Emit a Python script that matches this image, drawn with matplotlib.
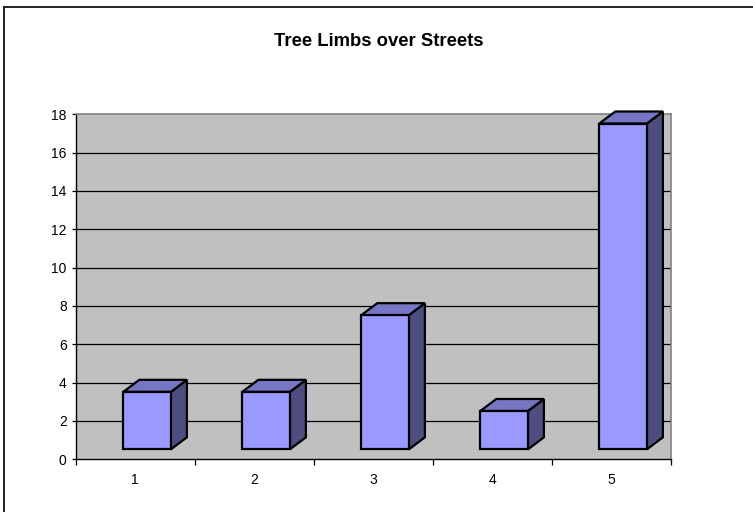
import matplotlib

matplotlib.use("Agg")
import matplotlib.pyplot as plt
from matplotlib.patches import Polygon
from matplotlib.lines import Line2D

plt.rcParams["font.family"] = ["Liberation Sans", "DejaVu Sans"]

categories = ["1", "2", "3", "4", "5"]
values = [3, 3, 7, 2, 17]
y_ticks = [0, 2, 4, 6, 8, 10, 12, 14, 16, 18]

FRONT = "#9999FF"
TOP = "#7676C4"
SIDE = "#4D4D80"
WALL = "#C0C0C0"

fig = plt.figure(figsize=(7.53, 5.12), dpi=100)
ax = fig.add_axes([75.7 / 753, 1 - 459.3 / 512, 595 / 753, 345 / 512])
ax.set_facecolor(WALL)
ax.set_xlim(0, len(categories))
ax.set_ylim(0, 18)

# gridlines on the back wall
for t in y_ticks[1:-1]:
    ax.axhline(t, color="#000000", linewidth=0.9, zorder=1)

# pseudo 3d columns (Excel style)
base = 0.52
dx = 16 / 119
dy = 12 / (345 / 18)
for i, v in enumerate(values):
    x0, x1 = i + 0.4, i + 0.8
    top = base + v
    front = Polygon([(x0, base), (x1, base), (x1, top), (x0, top)], closed=True,
                    facecolor=FRONT, edgecolor="black", linewidth=1.6, zorder=3, clip_on=False)
    lid = Polygon([(x0, top), (x1, top), (x1 + dx, top + dy), (x0 + dx, top + dy)], closed=True,
                  facecolor=TOP, edgecolor="black", linewidth=1.6, zorder=3, clip_on=False)
    side = Polygon([(x1, base), (x1 + dx, base + dy), (x1 + dx, top + dy), (x1, top)], closed=True,
                   facecolor=SIDE, edgecolor="black", linewidth=1.6, zorder=3, clip_on=False)
    for p in (side, lid, front):
        ax.add_patch(p)

for s in ("top", "right"):
    ax.spines[s].set_color("#808080")
    ax.spines[s].set_linewidth(1.2)
for s in ("left", "bottom"):
    ax.spines[s].set_color("#000000")
    ax.spines[s].set_linewidth(1.0)

ax.set_yticks(y_ticks)
ax.set_yticklabels([str(t) for t in y_ticks])
ax.tick_params(axis="y", direction="out", length=3, width=0.9, pad=3.5, labelsize=10, colors="black")

ax.set_xticks(range(len(categories) + 1))
ax.set_xticklabels([])
ax.set_xticks([i + 0.5 for i in range(len(categories))], minor=True)
ax.set_xticklabels(categories, minor=True)
ax.tick_params(axis="x", which="major", direction="out", length=4, width=0.9)
ax.tick_params(axis="x", which="minor", length=0, pad=10, labelsize=10)

fig.text(379 / 753, 1 - 41 / 512, "Tree Limbs over Streets", ha="center", va="center",
         fontsize=13.3, fontweight="bold")

# chart frame (only top and left edges fall inside the image)
fig.add_artist(Line2D([4 / 753, 4 / 753], [0, 1 - 7 / 512], transform=fig.transFigure,
                      color="#222222", linewidth=1.4))
fig.add_artist(Line2D([4 / 753, 1], [1 - 7 / 512, 1 - 7 / 512], transform=fig.transFigure,
                      color="#222222", linewidth=1.4))

fig.savefig("out.png", dpi=100)
plt.close(fig)
